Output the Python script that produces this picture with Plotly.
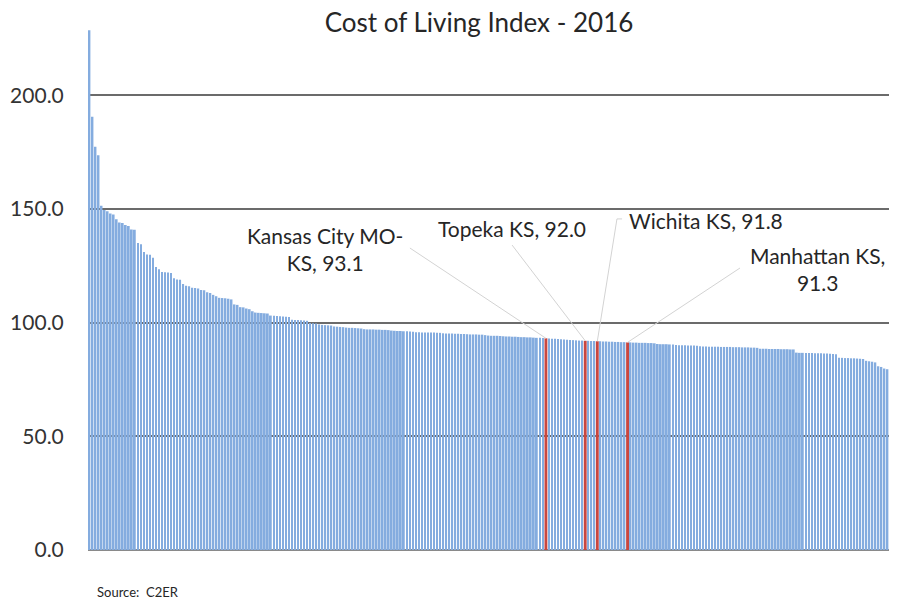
import plotly.graph_objects as go

# ---- data: Cost of Living Index 2016, urban areas sorted high -> low ----
chunks = [
    [228.6, 190.5, 177.3, 173.6, 151.4],
    [149.5, 149.0, 148.0, 147.5, 145.5],
    [144.0, 143.8, 142.9, 142.5, 141.0, 140.8],
    [135.0, 134.5, 131.0, 130.0, 129.8, 128.5],
    [124.5, 123.5, 122.3, 122.2, 122.0, 121.8],
    [119.5, 119.0, 118.8, 117.0, 116.2, 116.0],
    [115.3, 115.2, 115.0, 114.3, 114.2, 113.4],
    [113.0, 112.2, 111.6, 110.9, 110.8, 110.7, 110.5, 110.2],
    [108.0, 107.8, 106.8, 106.7, 106.2, 105.9],
    [105.0, 104.4, 104.3, 104.2, 104.1, 104.0],
    [103.1, 103.0, 102.9, 102.8, 102.7, 102.6, 102.5],
    [101.3, 101.2, 101.1, 101.0, 100.9, 100.8],
    [99.8, 99.7, 99.6, 99.2, 99.0, 98.9, 98.8, 98.7],
    [98.3, 98.2, 98.1, 98.0, 97.8, 97.7, 97.7, 97.6, 97.5, 97.4],
    [97.1, 97.0, 97.0, 97.0, 96.9, 96.9, 96.8, 96.8, 96.7],
    [96.5, 96.4, 96.3, 96.3, 96.2, 96.2, 96.1, 96.0],
    [95.8, 95.8, 95.7, 95.7, 95.7, 95.6, 95.6, 95.5, 95.5],
    [95.3, 95.2, 95.2, 95.2, 95.1, 95.1, 95.0, 95.0],
    [94.9, 94.8, 94.8, 94.8, 94.7, 94.7],
    [94.5, 94.3, 94.2, 94.2, 94.2, 94.1, 94.0],
    [93.9, 93.9, 93.8, 93.8, 93.7, 93.6, 93.6, 93.5, 93.5, 93.4, 93.3, 93.3, 93.2],
    [93.1],
    [93.0, 92.9, 92.9, 92.8, 92.7, 92.6, 92.5, 92.4, 92.3, 92.2, 92.1, 92.1],
    [92.0],
    [92.0, 91.9, 91.9],
    [91.8],
    [91.8, 91.7, 91.7, 91.6, 91.6, 91.5, 91.5, 91.4, 91.4],
    [91.3],
    [91.3, 91.2, 91.2, 91.1, 91.1],
    [91.1, 91.0, 91.0, 90.9, 90.6],
    [90.5, 90.5, 90.5, 90.4, 90.4],
    [90.1, 90.0, 90.0, 90.0, 89.9, 89.9, 89.9, 89.8, 89.6],
    [89.5, 89.5, 89.4, 89.4, 89.4, 89.4, 89.3, 89.3, 89.3, 89.3, 89.2, 89.2,
     89.2, 89.1, 89.1, 89.1, 89.0, 89.0, 88.9],
    [88.5, 88.5, 88.5, 88.4, 88.4, 88.4, 88.4, 88.3, 88.3, 88.3, 88.2, 88.2],
    [86.8, 86.7, 86.7, 86.6, 86.6, 86.6, 86.5, 86.5, 86.5, 86.4, 86.4, 86.3, 86.2, 86.1],
    [84.6, 84.5, 84.4, 84.4, 84.3, 84.3, 84.2, 84.1, 84.0],
    [83.2, 83.0, 82.8, 82.5],
    [80.8, 80.5, 79.8, 79.5],
]
index_values = [v for c in chunks for v in c]
ranks = list(range(len(index_values)))

highlight_ranks = [151, 164, 168, 178]
highlight_labels = ["Kansas City MO-<br>KS", "Topeka KS", "Wichita KS", "Manhattan KS,<br>"]
tick_values = [0, 50, 100, 150, 200]
tick_labels = ["0.0", "50.0", "100.0", "150.0", "200.0"]

# ---- styling ----
BLUE = "#84ACDF"
RED = "#C9463F"
FONT = "Lato, Open Sans, sans-serif"
colors = [RED if i in highlight_ranks else BLUE for i in ranks]
widths = [0.95 if i in highlight_ranks else 0.58 for i in ranks]

fig = go.Figure(go.Bar(x=ranks, y=index_values, width=widths,
                       marker=dict(color=colors, line=dict(width=0))))

# label placement (layout positions, in axis units) and leader lines
label_pos = [(77.9, 132.4), (139.8, 141.2), (203.9, 144.7), (241.0, 123.6)]
line_start = [(106.0, 132.8), (139.8, 134.1), (174.5, 145.6), (215.2, 124.0)]

annotations = []
shapes = []
for k, r in enumerate(highlight_ranks):
    lab = highlight_labels[k]
    if lab.endswith("<br>"):
        text = lab + f"{index_values[r]:.1f}"
    else:
        text = lab + f", {index_values[r]:.1f}"
    annotations.append(dict(x=label_pos[k][0], y=label_pos[k][1], xref="x", yref="y",
                            text=text, showarrow=False, align="center",
                            font=dict(family=FONT, size=21, color="#262626")))
    shapes.append(dict(type="line", xref="x", yref="y",
                       x0=line_start[k][0], y0=line_start[k][1], x1=r, y1=index_values[r],
                       line=dict(color="#D3D3D3", width=1), layer="above"))
# small hook on the Wichita leader
shapes.append(dict(type="line", xref="x", yref="y", x0=174.5, y0=145.6, x1=176.2, y1=145.6,
                   line=dict(color="#D3D3D3", width=1)))

annotations.append(dict(x=0.009, y=-0.08, xref="paper", yref="paper", xanchor="left", yanchor="middle",
                        text="Source:  C2ER", showarrow=False,
                        font=dict(family=FONT, size=13, color="#262626")))

# the page adds an 8px body margin, so the figure is offset by 8px
fig.update_layout(
    width=881, height=592,
    margin=dict(l=80, r=0, t=19, b=50),
    paper_bgcolor="white", plot_bgcolor="white",
    showlegend=False,
    title=dict(text="Cost of Living Index - 2016", x=471 / 881, xanchor="center",
               y=1 - 15 / 592, yanchor="middle", xref="container", yref="container",
               font=dict(family=FONT, size=26, color="#262626")),
    xaxis=dict(range=[-0.5, len(index_values) - 0.5], showticklabels=False, showgrid=False,
               zeroline=False, showline=False, ticks=""),
    yaxis=dict(range=[0, 230], tickvals=tick_values, ticktext=tick_labels,
               showgrid=True, gridcolor="#6B6B6B", gridwidth=2,
               zeroline=True, zerolinecolor="#8A8A8A", zerolinewidth=2,
               showline=False, ticks="outside", ticklen=19, tickcolor="rgba(0,0,0,0)",
               tickfont=dict(family=FONT, size=21, color="#333333")),
    annotations=annotations,
    shapes=shapes,
)

fig.write_html("out.html")
